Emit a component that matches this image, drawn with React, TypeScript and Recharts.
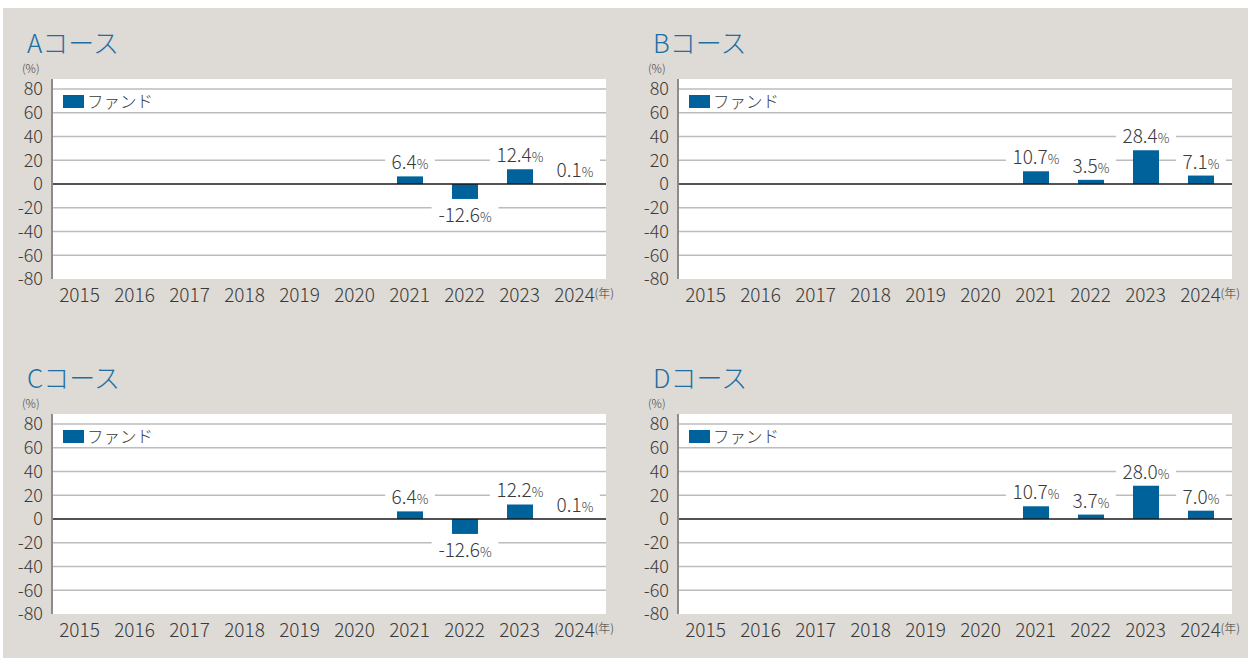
import React from 'react';
import { BarChart, Bar, XAxis, YAxis, CartesianGrid, ReferenceLine, LabelList, Legend } from 'recharts';

const years = ['2015', '2016', '2017', '2018', '2019', '2020', '2021', '2022', '2023', '2024'];
const courseA = [null, null, null, null, null, null, 6.4, -12.6, 12.4, 0.1];
const courseB = [null, null, null, null, null, null, 10.7, 3.5, 28.4, 7.1];
const courseC = [null, null, null, null, null, null, 6.4, -12.6, 12.2, 0.1];
const courseD = [null, null, null, null, null, null, 10.7, 3.7, 28.0, 7.0];
const panelTitles = ['Aコース', 'Bコース', 'Cコース', 'Dコース'];
const yTicks = [80, 60, 40, 20, 0, -20, -40, -60, -80];
const gridValues = [80, 60, 40, 20, -20, -40, -60];
const seriesName = 'ファンド';
const yUnit = '(%)';
const xUnit = '(年)';

const FONT = '"Noto Sans CJK JP", "Noto Sans", sans-serif';
const W = 300;
const BLUE = '#00629a';
const TITLE_BLUE = '#1d6fa4';
const TEXT = '#3a3a3a';
const BG = '#dedad6';

const series = [courseA, courseB, courseC, courseD];
const offsets = [
  [0, 0],
  [626, 0],
  [0, 335],
  [626, 335],
];

function estimateWidth(s: string): number {
  let w = 0;
  for (const ch of s) {
    if (ch === '.') w += 5;
    else if (ch === '-') w += 6.6;
    else w += 10.5;
  }
  return w + 11.7;
}

function ValueLabel(props: any) {
  const { x, y, width, height, value } = props;
  if (value === null || value === undefined) return null;
  const v = Number(value);
  const xx = Number(x);
  const yy = Number(y);
  const hh = Number(height) || 0;
  const cx = xx + Number(width) / 2;
  const yTop = Math.min(yy, yy + hh);
  const yBot = Math.max(yy, yy + hh);
  const baseline = v >= 0 ? yTop - 7 : yBot + 23;
  const str = v.toFixed(1);
  const w = estimateWidth(str) + 12;
  return (
    <g>
      <rect x={cx - w / 2} y={baseline - 21} width={w} height={26} fill="#fff" />
      <text x={cx} y={baseline} textAnchor="middle" fontFamily={FONT} fontWeight={W} fontSize={19} fill={TEXT}>
        {str}
        <tspan fontSize={13}>%</tspan>
      </text>
    </g>
  );
}

function YearTick(props: any) {
  const { x, y, payload } = props;
  const last = payload.value === years[years.length - 1];
  return (
    <g>
      <text x={x} y={y} dy="0.71em" textAnchor="middle" fontFamily={FONT} fontWeight={W} fontSize={19} fill={TEXT}>
        {payload.value}
      </text>
      {last && (
        <text x={x + 20} y={y} dy="0.71em" fontFamily={FONT} fontWeight={W} fontSize={12} fill={TEXT}>
          {xUnit}
        </text>
      )}
    </g>
  );
}

function LegendContent() {
  return (
    <div style={{ display: 'flex', alignItems: 'center', fontFamily: FONT, fontWeight: W, fontSize: 16.5, color: TEXT, lineHeight: '18px', whiteSpace: 'nowrap' }}>
      <span style={{ display: 'inline-block', width: 21, height: 13, background: BLUE, marginRight: 3 }} />
      <span>{seriesName}</span>
    </div>
  );
}

function Panel({ title, values, dx, dy }: { title: string; values: (number | null)[]; dx: number; dy: number }) {
  const data = years.map((yr, i) => ({ year: yr, fund: values[i] }));
  return (
    <div style={{ position: 'absolute', left: dx, top: dy, width: 626, height: 335 }}>
      <div style={{ position: 'absolute', left: 27, top: 29, fontFamily: FONT, fontWeight: W, fontSize: 26, lineHeight: '26px', color: TITLE_BLUE, whiteSpace: 'nowrap' }}>
        {title}
      </div>
      <div style={{ position: 'absolute', left: 22, top: 62, fontFamily: FONT, fontWeight: W, fontSize: 11.5, lineHeight: '12px', color: TEXT }}>
        {yUnit}
      </div>
      <div style={{ position: 'absolute', left: 0, top: 0 }}>
        <BarChart width={620} height={320} data={data} margin={{ top: 79, right: 14, left: 0, bottom: 11 }} barSize={26}>
          <CartesianGrid vertical={false} horizontalValues={gridValues} stroke="#bcbcbc" strokeWidth={1.5} fill="#fff" />
          <XAxis dataKey="year" axisLine={false} tickLine={false} height={30} padding={{ left: 0, right: 4 }} tickMargin={4} interval={0} tick={<YearTick />} />
          <YAxis
            width={52}
            domain={[-80, 88.4]}
            ticks={yTicks}
            allowDataOverflow
            interval={0}
            tickLine={false}
            tickMargin={3}
            axisLine={{ stroke: '#8c8c8c', strokeWidth: 2 }}
            tick={{ fontFamily: FONT, fontWeight: W, fontSize: 18, fill: TEXT }}
          />
          <ReferenceLine y={0} stroke="#1a1a1a" strokeWidth={1.3} />
          <Legend
            layout="horizontal"
            verticalAlign="middle"
            align="center"
            content={<LegendContent />}
            wrapperStyle={{ position: 'absolute', top: 92, left: 63, width: 'auto', height: 'auto' }}
          />
          <Bar dataKey="fund" name={seriesName} fill={BLUE} isAnimationActive={false}>
            <LabelList dataKey="fund" content={<ValueLabel />} />
          </Bar>
        </BarChart>
      </div>
    </div>
  );
}

export default function App() {
  return (
    <div style={{ position: 'absolute', left: 0, top: 0, width: 1248, height: 658, background: '#fff', overflow: 'hidden' }}>
      <div style={{ position: 'absolute', left: 3, top: 8, width: 1245, height: 650, background: BG }} />
      {panelTitles.map((t, i) => (
        <Panel key={t} title={t} values={series[i]} dx={offsets[i][0]} dy={offsets[i][1]} />
      ))}
    </div>
  );
}
